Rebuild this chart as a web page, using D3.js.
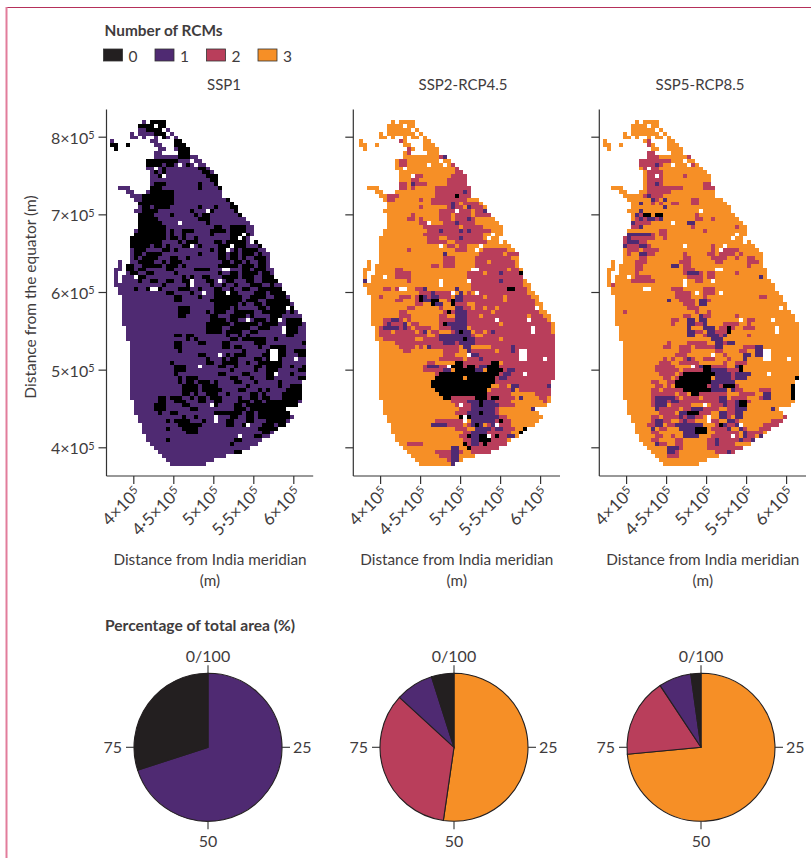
<!DOCTYPE html>
<html><head><meta charset="utf-8">
<script src="https://cdn.jsdelivr.net/npm/d3@7"></script>
<style>
html,body{margin:0;padding:0;background:#fff}
svg{display:block}
text{font-family:"Lato",sans-serif;fill:#3f3c3d}
</style></head><body>
<svg id="c" width="811" height="858"></svg>
<script>
// ---------- data ----------
const panelTitles = ["SSP1","SSP2-RCP4.5","SSP5-RCP8.5"];
const legendLabels = ["0","1","2","3"];
const rcmColors = ["#231f20","#4f2a72","#b93e5b","#f68f26"];
const mapColors = ["#000000","#4f2a72","#b93e5b","#f68f26"];
const xTicks = [400000,450000,500000,550000,600000];
const xTickLabels = [["4×10","5"],["4·5×10","5"],["5×10","5"],["5·5×10","5"],["6×10","5"]];
const yTicks = [400000,500000,600000,700000,800000];
const yTickLabels = [["4×10","5"],["5×10","5"],["6×10","5"],["7×10","5"],["8×10","5"]];
const cellMetres = 5000;
const gridWestEdge = 371250;
const gridNorthEdge = 821500;
const pieTickLabels = ["0/100","25","50","75"];
const pieOrder1 = [1,0];
const pieValues1 = [70,30];
const pieOrder2 = [3,2,1,0];
const pieValues2 = [52.3,34.5,8.3,4.9];
const pieOrder3 = [3,2,1,0];
const pieValues3 = [73.5,17.2,7.1,2.2];

// land cells per grid row (column spans)
const landRows = ["8 10-13","7-13","7-14","5 7-13 15","5-6 8 11 13-16","0 10-11 16-17","0-1 4 11-12 16-18","1 12-13 16-19","11-12 17-19","11-21","9-22","9-23","9-24","10-25","10-26","10-26","10-26","2-4 10-27","4-5 9-27","5-28","6-29","7-30","7-31","6-31","7-32","7-33","7-34","7-35","6-35","6-35","5-34","5-34 36","5-37","5-38","5-39","5-39","2 5-39","2 4-39","1-2 4-40","1 4-40","1 3-40","1 3-41","1-42","2-42","2-43","3-44","3-44","3-45","3-45","3-46","3-47","3-47","3-48","4-48","4-48","4-48","4-48","5-48","5-48","5-48","5-48","5-48","5-48","5-48","5-48","5-48","5-48","5-47","5-47","5-47","5-47","5-47","6-47","6-46","6-43","6-44","7-45","7-44","8-43","8-41","8-40","9-39","9-37","10-36","11-34","12-32","13-28","14-25","15-23"];
// cells without data, [row, column]
const noDataCells = [[1,11],[2,13],[3,14],[4,15],[11,17],[10,20],[11,21],[12,11],[14,13],[19,28],[23,24],[26,17],[29,33],[30,32],[32,30],[33,29],[32,20],[38,28],[38,29],[40,6],[41,27],[41,20],[42,20],[43,10],[43,11],[44,23],[44,29],[51,34],[51,42],[53,43],[54,43],[48,44],[60,27],[63,22],[59,40],[59,41],[60,40],[60,41],[61,40],[61,41],[61,46],[65,41],[73,25],[76,26],[77,26],[78,34],[81,32]];

const ssp1Zero = ["0:10-13","1:7-10 12-13","2:9-13","3:11-13","4:12-13","5:16-17","6:0-1 4 16-18","7:1 17-19","8:17-19","9:17-19","10:9-16","11:9-12 14-15 19","12:13 22-23","13:11 13 23-24","14:12 24-26","15:25-26","16:11-13 22 26-27","17:10-12 22 27-28","18:10-15 28","19:8-15 28-29","20:8-15 29-30","21:7-15 30","22:8-9 11-14 22 26 30-31","23:8-11 20 25 31-32","24:7-10 15 21 23-24 32","25:7-11 22-24","26:7-12 24","27:7-13 26-27 30-33","28:7-13 15 18-20 25-28 30-33","29:5-13 15 18 25 30-34","30:5-13 15-16 18 21 30-33","31:5-12 17 19-21 26-27 29-33 36","32:5-9 11-12 14 18-19 22 27-29 31-33 37-38","33:6-8 13-14 16 25 27-29 31 33-36","34:6-7 9-12 22 27-28 30-31 33-35 37","35:6 8-11 15-16 19 27-28 30-31 33 36-38","36:7-10 13 15-17 28-29 31-32 34 37-38","37:4-5 8-10 11-12 14-16 18 27-31 33-35 37-38","38:4-5 7-8 14-15 21-24 28-29 33-34 36-38","39:5-6 9-10 16 27 30-31 33-36 38-39","40:6-8 18 20 23-24 28-31 33-35 38-40","41:7 10-11 14-15 18-19 24-25 29-30 34-35 38-41","42:13 19 25 28 31 35-37 40","43:6 9 11-12 17-19 22 26-27 30 33-34 37-43","44:14-15 20 26-31 36-38 40-43","45:16-17 22 26-32 35-38 41-43","46:16-17 25-32 34-36 39-44","47:26-31 33 36-37 39-44","48:17-19 26-29 31 37-38 40-43 45","49:17-19 24 26-28 31-35 38-39 40-43 45","50:17-18 25-26 30-33 35 40-42","51:25-28 30-31 36-38 40-41 44-47","52:24-29 31-36 38-41 44-47","53:24-27 30-34 37-39 44-46","54:24-27 29-32 35-36 44-46","55:16-17 19-20 29 32 34 44-45","56:19 21 30-31 33-38 41","57:16-17 22-23 28-29 36-38 48","58:16-17 28-29 31-32 37 40-43","59:17 33 39-43 46-48","60:22-23 29 31-33 38-39 42-43 47-48","61:4 24 28 30-31 36-37 39-42","62:15 24-25 28-31 34 37-38 39-42","63:16-18 27-28 31 36-37 39-42 45 48","64:16-18 30 36 39-41 47-48","65:16 27-28 33-34 39-41 45","66:17 19-21 30-31 35 39-40 47-48","67:17 19-20 22-24 26 31-32 36 42","68:18-21 23-26 34 42 45-47","69:18-21 23-27 32-33 37 39 44-47","70:18-19 21 24-26 29 35-36 38 43-47","71:12-13 15-17 20 22-23 25-27 32 35-36 38-39 43-47","72:12-13 16-18 22-23 26-27 32-34 36-37 39-46","73:11-13 18-19 26 31-32 34-36 37-46","74:11-13 20-21 31-33 35-43","75:12 15-16 26-27 28-32 34-35 37-45","76:18 21 26 30-31 34-35 37-44","77:14 16-19 23 29-30 34-35 39-43","78:17-22 29-30 33 38-40 42-43","79:14 18-21 37-41","80:19-21 38-39","81:36-37","82:14 31-32","83:30","85:31-32"];

const ssp2Two = ["5:10","6:10","7:12","8:12-13","9:20-21","10:10-11","11:10-11 23-24","12:24","13:24-25","14:14-15 23-26","15:13-14 22-27","16:10-11 13-16 22-27","17:10-11 13 19-28","18:19-27","19:7-9 19-23 25-27","20:7-8 15 18-26","21:18-24 26-29","22:15 22-25 27-30","23:20-27 29-31","24:13 20-22 24-27 29-32","25:12-13 15 20-22 24-28","26:15-16 21-23 25-28","27:16-18 19-24 26-30","28:17-25 26-32","29:16-26 27-30","30:17-19 22-30","31:17-21 24-31","32:22-23 25-26","33:12 24-26 31-36","34:21 30-39","35:21-23 29-37","36:21-23 29-38","37:18-19 21-23 29-38","38:9-10 30-39","39:9-12 27-39","40:9-12 27-40","41:12 27-34 36-40","42:28-40","43:6-7 9 14-15 28-36 39-41","44:15-22 27 30-41","45:5 10-12 14-22 24-42","46:9-10 14-19 22-27 28-43","47:14-15 23-26 29-43","48:12-13 20 24-26 27-33 35-44","49:10-11 21-23 26-44","50:10-12 20-21 27-45","51:6-8 9-10 12 20-26 27-46","52:6-10 13-14 20-23 27-47","53:5-8 10-12 14-17 20-24 28-47","54:5-7 9-13 15-16 18-19 23-27 29-47","55:5-14 15-16 19-28 31-48","56:6-13 16-19 28-34 36-48","57:9-16 17-25 28-48","58:10-13 15 18-24 33-48","59:11-12 21-24 28-33 35-48","60:21-23 29-48","61:20-25 27-48","62:17-18 26-32 36-48","63:16-22 26-32 34-48","64:16-20 24-28 36-48","65:19-21 35-48","66:34-48","67:34-47","68:35-36 40-47","69:33-37 40-47","70:32-37 44-47","71:22-28 32-38 45-46","72:23-29 33-37 46","73:24-27 32-38","74:25-34","75:24-34","76:25-36","77:19-25 33-37","78:18-25 27-28 32-37","79:24-26 31-38","80:26-37","81:25-37","82:26-36","83:12-15 26-36","84:27-36","85:19-25 28-33","86:20-24 29-32","87:22-24"];
const ssp2Three = ["34:36","36:32","38:37","39:31","41:35","43:37-38","45:31 36","46:36","48:28 31 34","49:33","50:30 42","52:35","54:31","55:29-30","56:35","62:33-35","64:29-35","65:29-34","68:37-39"];
const ssp2One = ["9:21-22","16:13","18:26","21:23","22:23 27","23:31","25:27","26:24","28:20 25 27","30:25","34:21","39:35","41:1 35","43:16 24","44:18 25","45:15-16 18-19 24-25","46:16-17 19 24-25","47:19-20","48:24-25","49:24-26","50:24-26","51:8-9 24-26","52:7 11 22-26","53:6-7 8-9 11 23-26","54:16 24-27 33","55:20-27","56:20-28","57:21-23 25-28","58:17 26-27 38","59:27 38","60:28-29","61:30","63:17-19 30-31","64:21-22 29-30 37-38","65:36-37","66:35-36","68:38-39 47","69:38","71:40","72:27-29 31-33","73:28-31 32-34","74:28-33 43","75:27-33","76:28-34","77:28-33","78:18-21 28-30 33-34","79:29-32 34-35","80:28-31","81:28-30 37-38","82:28-30","83:28-29","84:23-24","85:23-24","86:23-24","87:23-24","88:23"];
const ssp2Zero = ["19:24","39:40","43:37-38","45:15","46:15 18-19 23","47:18 23","49:22","52:21","54:25","56:26","61:4","62:24-25 33-34","63:23-25 27-28 32-34","64:24-28 32-35","65:20-34","66:19-25 27-33","67:18-33","68:18-32","69:19-31","70:20-31","71:21-22 29-31 33-34","72:30","73:30","75:30","76:25 27","77:35","78:29","79:41","80:40","81:27 30-31 34","82:30-32","83:26 31","84:27"];

const ssp3Two = ["5:11","6:11","8:11-12","9:9-13 21-22","10:9-16","11:9-14 22","12:10-13","13:11-14","14:11-14 20","15:11-14","16:11-14 25-27","17:11-18 19 25-27","18:11-16","19:10-14","20:12-13 15 22-23","21:12 14 17-18 22-23","23:32","24:8-9 13 23","25:8-10 13-14 23-24 27","26:7-11","27:7-8 22 33","28:14-15 25","29:5-12 14-15","30:5-12 15","31:5-10","32:6-11 27","33:6-8 10-13 27 30-33","34:6 9-12 20 26-27 29-32 34","35:9-10 20-21 27-30 33 36-37","36:8-10 19-21 28-29 36-38","37:8-9 20-21 36","38:8-9 20-22","39:8 20-24 33 26-27","40:8-11 21-24 26-27","41:7-12 23-24","42:2","43:17-19 25-27","44:18-21 25-27","45:18-21 25 39-40","46:19-22 24-26","47:20-22","48:21-23","49:5 23 26","50:20-21 24-26 33","51:17-18 24-25 36-37","52:17 21-24 30-33 36","53:29-32 35-37","54:21-24 27-30","55:21-22 25 29-30 36","56:29","57:16 21-25 30-32","58:15-16 19-21 23-28 35-39","59:19-21 28-29 34-35 38","60:18-20 30","61:15 17 20-22 25-27 31 35","62:14-16 19-23 30 33-35","63:13-17 22-30 33","64:13-18 20-24 29-33","65:14-17 19-20 27-34","66:15-16 18 29-33","67:12-13 16-18 29-32","68:13-14 16 21-33","69:12-13 15-28 33-34 39-41","70:12-17 19-20 23-30 34-37 40-41","71:12-18 20-23 25-30 32-35 39-41 47","72:12-21 22-36","73:12-15 17-21 25 27-34","74:13-18 20-28 31-35","75:14-17 21-26 31-34","76:12-13 15-20 23-24 30-31 34 45-46","77:12-16 19-22 26-28 31-33 42-45","78:11-14 16-17 21-24 28-33 40-44","79:14-15 21-24 27-31 35 39-42","80:12-13 20-21 28-33 36-39","81:13-14 17 27-33 36-37","82:12-13 18-19 26-36","83:13-15 18-19 26-32","84:16-19 26-34","85:16-18 28-33","86:16-18 29-33"];
const ssp3One = ["11:13","16:13","19:11","20:12 15","21:9","22:15","23:9","24:8","25:9 11-12 14","26:7 21-22","27:9","29:6-7 8-11","30:6","31:6-8","32:5 9-10","34:9-10","37:17-18","39:21 22-23","40:39","46:16 24-25","47:24-25","50:24","51:21-22 24-25","52:21-22 25","53:21 25-27","54:21-22 26-27","55:21-22 26-28 30","56:27-29","57:28-29 31-32","58:28-29 38-39","59:38-39","60:35-36 38-39","61:21 35","63:24-26 33","64:27-30","65:27-31 33-36","66:28-31 33-35","67:27-32","68:27-28","69:27-30 32","70:40-41","71:13-17 29-30 40-41","72:13-15 17-18 29-30 33","73:13-15 30 33-34","74:13 22-24 33-35 42","75:19-21 29-30 33-34","76:19 21-22 29-30 33-34","77:13-14 20 31-32","78:13-14 18-24 29-30 33-34","79:12 19-24 31 34","80:20-24 35","81:20-23 35 39","82:28 34 37-38","83:13 28","84:16-18","85:16-17 31"];
const ssp3Zero = ["24:10-11 13-14","53:31","54:31","61:4","63:25-26 34","64:25-26 34","65:20-27","66:19-26 48","67:18-26","68:18-25 30-32 47","69:20-26 47","70:22-23 47","71:47","72:34-35","73:34-35","75:21 22-23","78:29","79:23-25","80:23-25"];

// ---------- helpers ----------
function spanCols(s){
  const out=[];
  s.trim().split(/\s+/).forEach(t=>{
    if(!t) return;
    const p=t.split("-").map(Number);
    for(let c=p[0];c<=(p.length>1?p[1]:p[0]);c++) out.push(c);
  });
  return out;
}
function overlay(grid,list,v){
  list.forEach(e=>{
    const i=e.indexOf(":"),r=+e.slice(0,i);
    spanCols(e.slice(i+1)).forEach(c=>{ if(grid.has(r+"_"+c)) grid.set(r+"_"+c,v); });
  });
}
function buildCells(base,layers){
  const grid=new Map();
  landRows.forEach((s,r)=>spanCols(s).forEach(c=>grid.set(r+"_"+c,base)));
  noDataCells.forEach(([r,c])=>grid.delete(r+"_"+c));
  layers.forEach(([l,v])=>overlay(grid,l,v));
  return Array.from(grid,([k,v])=>{const [r,c]=k.split("_").map(Number);
    return {x:gridWestEdge+c*cellMetres,y:gridNorthEdge-r*cellMetres,v};});
}
const panelCells=[
  buildCells(1,[[ssp1Zero,0]]),
  buildCells(3,[[ssp2Two,2],[ssp2Three,3],[ssp2One,1],[ssp2Zero,0]]),
  buildCells(3,[[ssp3Two,2],[ssp3One,1],[ssp3Zero,0]])
];

const svg=d3.select("#c");
// page frame
svg.append("line").attr("x1",6).attr("x2",811).attr("y1",7.5).attr("y2",7.5).attr("stroke","#b5305a").attr("stroke-width",1);
svg.append("line").attr("x1",6.5).attr("x2",6.5).attr("y1",7).attr("y2",858).attr("stroke","#e27d9b").attr("stroke-width",2);

// legend
svg.append("text").attr("x",104.5).attr("y",36).attr("font-size",15.4).attr("font-weight",700).text("Number of RCMs");
const lg=svg.append("g").selectAll("g").data(legendLabels).join("g")
  .attr("transform",(d,i)=>`translate(${103.5+i*51.5},49)`);
lg.append("rect").attr("width",19).attr("height",12).attr("fill",(d,i)=>rcmColors[i]).attr("stroke","#333").attr("stroke-width",0.8);
lg.append("text").attr("x",25).attr("y",12.5).attr("font-size",15.5).text(d=>d);

// panels
const panelAxisX=[106.5,353.3,599.3];
const panelMapNudge=[0,1.5,0];
const axisTop=109.5, axisBottom=476;
const titleX=[224,463,700];

function expLabel(sel,parts){
  sel.text(null);
  sel.append("tspan").text(parts[0]);
  sel.append("tspan").attr("dy","-0.42em").attr("font-size","0.68em").text(parts[1]);
}

panelTitles.forEach((t,i)=>{
  const ax=panelAxisX[i];
  const x=d3.scaleLinear().domain([400000,600000]).range([ax+26.8,ax+186.8]);
  const y=d3.scaleLinear().domain([400000,800000]).range([447.3,136.7]);
  const g=svg.append("g");
  g.append("text").attr("x",titleX[i]).attr("y",90).attr("text-anchor","middle").attr("font-size",15).text(t);

  const cw=x(cellMetres)-x(0), ch=y(0)-y(cellMetres);
  g.append("g").attr("shape-rendering","crispEdges").selectAll("rect").data(panelCells[i]).join("rect")
    .attr("x",d=>x(d.x)+panelMapNudge[i]).attr("y",d=>y(d.y)).attr("width",cw).attr("height",ch)
    .attr("fill",d=>mapColors[d.v]);

  // y axis
  const yA=g.append("g").attr("transform",`translate(${ax},0)`)
    .call(d3.axisLeft(y).tickValues(yTicks).tickSize(8).tickFormat(""));
  yA.select(".domain").attr("d",`M0,${axisTop}V${axisBottom}`).attr("stroke","#333").attr("stroke-width",1.2);
  yA.selectAll(".tick line").attr("stroke","#333").attr("stroke-width",1.2);
  if(i===0){
    yA.selectAll(".tick text").attr("x",-12).attr("font-size",16).attr("fill",null).attr("dy","0.4em")
      .each(function(d,k){expLabel(d3.select(this),yTickLabels[k]);});
  } else yA.selectAll(".tick text").remove();

  // x axis
  const xA=g.append("g").attr("transform",`translate(0,${axisBottom})`)
    .call(d3.axisBottom(x).tickValues(xTicks).tickSize(8).tickFormat(""));
  xA.select(".domain").attr("d",`M${ax},0H${ax+206.7}`).attr("stroke","#333").attr("stroke-width",1.2);
  xA.selectAll(".tick line").attr("stroke","#333").attr("stroke-width",1.2);
  xA.selectAll(".tick text").attr("font-size",17).attr("fill",null).attr("text-anchor","end")
    .attr("y",0).attr("dy",0).attr("transform","translate(8,18) rotate(-45)")
    .each(function(d,k){expLabel(d3.select(this),xTickLabels[k]);});

  const cx=ax+103.5;
  g.append("text").attr("x",cx).attr("y",565).attr("text-anchor","middle").attr("font-size",15.3).text("Distance from India meridian");
  g.append("text").attr("x",cx).attr("y",586).attr("text-anchor","middle").attr("font-size",15.3).text("(m)");
});
svg.append("text").attr("transform","translate(36,297) rotate(-90)").attr("text-anchor","middle").attr("font-size",15.5).text("Distance from the equator (m)");

// pies
svg.append("text").attr("x",105).attr("y",631).attr("font-size",15.6).attr("font-weight",700).text("Percentage of total area (%)");
const pieCenters=[208,454,701], pieCY=747.3, pieR=74;
const pies=[[pieValues1,pieOrder1],[pieValues2,pieOrder2],[pieValues3,pieOrder3]];
const pieGen=d3.pie().sort(null);
const arcGen=d3.arc().innerRadius(0).outerRadius(pieR);
const pieAngle=d3.scaleLinear().domain([0,100]).range([0,2*Math.PI]);
pies.forEach(([vals,order],i)=>{
  const g=svg.append("g").attr("transform",`translate(${pieCenters[i]},${pieCY})`);
  g.selectAll("path").data(pieGen(vals)).join("path")
    .attr("d",arcGen).attr("fill",(d,k)=>rcmColors[order[k]]).attr("stroke","#231f20").attr("stroke-width",1.1);
  [0,25,50,75].forEach((p,k)=>{
    const a=pieAngle(p), sx=Math.sin(a), cy=-Math.cos(a);
    g.append("line").attr("x1",sx*pieR).attr("y1",cy*pieR).attr("x2",sx*(pieR+8)).attr("y2",cy*(pieR+8)).attr("stroke","#333").attr("stroke-width",1.1);
    const tx=k===1?sx*(pieR+11):k===3?sx*(pieR+12):0;
    const ty=k===0?-(pieR+11.5):k===2?(pieR+26):6;
    g.append("text").attr("x",tx).attr("y",ty).attr("font-size",16)
      .attr("text-anchor",k===1?"start":k===3?"end":"middle").text(pieTickLabels[k]);
  });
});
</script>
</body></html>
